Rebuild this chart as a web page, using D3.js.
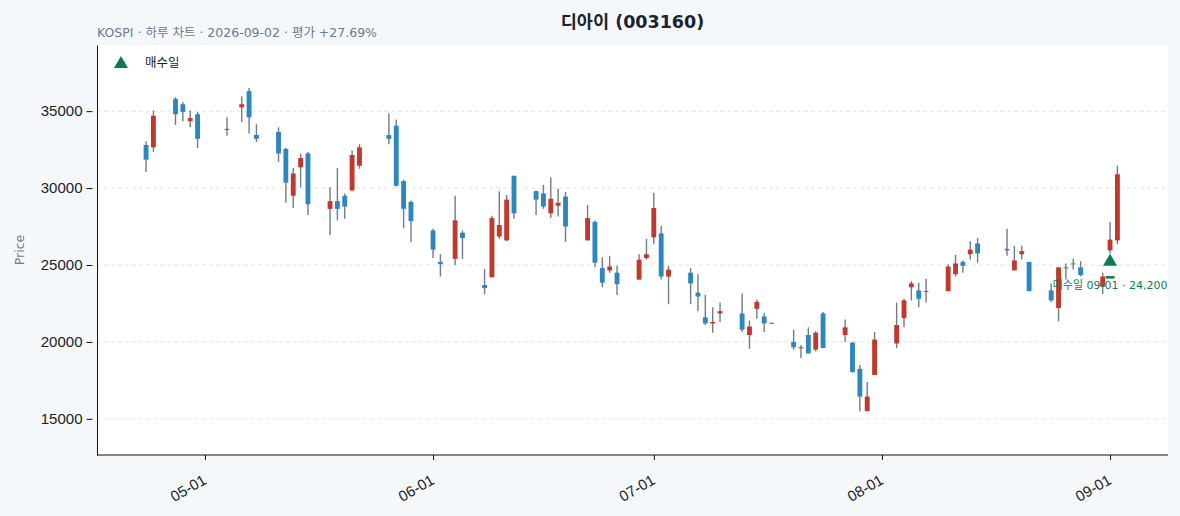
<!DOCTYPE html>
<html>
<head>
<meta charset="utf-8">
<script src="https://cdn.jsdelivr.net/npm/d3@7"></script>
<style>
	body { margin: 0; background: #f5f8fb; }
	svg { display: block; font-family: "DejaVu Sans", "Noto Sans CJK KR", sans-serif; }
	.grid line { stroke: #e4e4e4; stroke-dasharray: 4,3; }
	.axis path, .axis line { stroke: #111; }
	.axis text { fill: #222; font-size: 15px; }
</style>
</head>
<body>
<svg id="chart"></svg>
<script>

// daily candles (KRW)
var dates = [
	"2026-04-23","2026-04-24","2026-04-27","2026-04-28","2026-04-29","2026-04-30",
	"2026-05-04","2026-05-06","2026-05-07","2026-05-08","2026-05-11","2026-05-12","2026-05-13","2026-05-14","2026-05-15",
	"2026-05-18","2026-05-19","2026-05-20","2026-05-21","2026-05-22","2026-05-26","2026-05-27","2026-05-28","2026-05-29",
	"2026-06-01","2026-06-02","2026-06-04","2026-06-05","2026-06-08","2026-06-09","2026-06-10","2026-06-11","2026-06-12",
	"2026-06-15","2026-06-16","2026-06-17","2026-06-18","2026-06-19","2026-06-22","2026-06-23","2026-06-24","2026-06-25","2026-06-26",
	"2026-06-29","2026-06-30","2026-07-01","2026-07-02","2026-07-03","2026-07-06","2026-07-07","2026-07-08","2026-07-09","2026-07-10",
	"2026-07-13","2026-07-14","2026-07-15","2026-07-16","2026-07-17","2026-07-20","2026-07-21","2026-07-22","2026-07-23","2026-07-24",
	"2026-07-27","2026-07-28","2026-07-29","2026-07-30","2026-07-31","2026-08-03","2026-08-04","2026-08-05","2026-08-06","2026-08-07",
	"2026-08-10","2026-08-11","2026-08-12","2026-08-13","2026-08-14","2026-08-18","2026-08-19","2026-08-20","2026-08-21",
	"2026-08-24","2026-08-25","2026-08-26","2026-08-27","2026-08-28","2026-08-31","2026-09-01","2026-09-02"
];
var opens = [
	32800,32650,35800,35450,34350,34800,
	33800,35250,36300,33450,33650,32550,29500,31350,32250,
	28650,29150,29500,29850,31450,33450,34050,30450,29100,
	27250,25200,25400,27100,23700,24200,26850,26600,30800,
	29800,29650,28350,28850,29450,26600,27800,24800,24650,24500,
	24050,25450,26800,27050,24250,24500,23200,21600,21200,21850,
	21850,20450,22150,21650,21230,20000,19600,20450,19500,21850,
	20450,19950,18250,15500,17850,19900,21550,23550,23350,23250,
	23300,24400,25200,25700,26400,26050,24650,25700,25200,
	23350,22200,24850,25100,24850,23600,25950,26600
];
var highs = [
	33050,35050,35900,35600,35050,34950,
	34600,35950,36500,34150,33950,32600,31300,32250,32350,
	30050,31300,29650,32450,32850,34850,34450,30550,29200,
	27350,25700,29500,27250,24750,28200,29800,29550,30800,
	29850,30200,30700,29950,29750,28900,27900,25500,25600,24950,
	25700,26700,29700,27550,24950,24800,24400,23050,22250,22550,
	23150,21400,22750,21900,21250,20800,19800,20950,20700,21950,
	21450,20000,18500,17400,20650,22550,22800,23950,23850,24100,
	25050,25650,25300,26550,26750,27350,26250,26250,25200,
	23800,24850,25100,25400,25250,24500,27800,31450
];
var lows = [
	31050,32350,34100,34350,33950,32600,
	33400,34300,33550,33000,31700,29050,28700,30050,28250,
	26950,27900,28000,29800,31250,32850,30100,27400,26500,
	25450,24250,25000,25400,23100,24200,26700,26550,28000,
	28250,28650,28050,28150,26500,26600,24850,23550,24500,23050,
	24050,25350,26350,24050,22450,22450,22000,21100,20600,21300,
	20650,19550,21500,20650,21230,19500,18950,19250,19400,19600,
	20000,18000,15500,15500,17850,19600,20950,22700,22250,22550,
	23300,24250,24500,25350,25150,25600,24650,25350,23300,
	22600,21350,24050,24700,24250,23100,25750,26350
];
var closes = [
	31850,34700,34800,34950,34550,33200,
	33850,35450,34600,33200,32250,30350,30950,31950,28950,
	29150,28650,28800,32150,32650,33200,30150,28650,27850,
	26000,25050,27900,26750,23500,28050,27600,29250,28350,
	29250,28800,29300,29050,27500,28050,25150,23850,24900,23750,
	25350,25700,28700,24250,24700,23800,22950,21200,21300,22000,
	20800,21000,22600,21200,21250,19650,19650,19250,20600,19600,
	20950,18050,16450,16450,20150,21100,22700,23800,22800,23300,
	24900,25100,24950,26000,25750,25950,25300,25900,23300,
	22700,24850,24800,25050,24350,24250,26650,30900
];

var yTicks = [15000, 20000, 25000, 30000, 35000];
var monthTicks = ["2026-05-01","2026-06-01","2026-07-01","2026-08-01","2026-09-01"];

var buyDate = "2026-09-01",
	buyPrice = 24200;

var title = "디아이 (003160)",
	subtitle = "KOSPI · 하루 차트 · 2026-09-02 · 평가 +27.69%",
	legendLabel = "매수일";

function Chart(){
	this.width = 1180,
	this.height = 516,
	this.margin = {top: 45, right: 12, bottom: 61, left: 97},

	this.draw();
}

Chart.prototype.draw = function(){

	var width = this.width,
		height = this.height,
		m = this.margin,
		parse = d3.timeParse("%Y-%m-%d"),
		up = "#c0392b",
		down = "#2e86c1",
		wick = "#6f7c8a",
		green = "#0b7d4e";

	var candles = dates.map(function(d, i){
		return {date: parse(d), o: opens[i], h: highs[i], l: lows[i], c: closes[i]};
	});

	var svg = d3.select("#chart")
		.attr("width", width)
		.attr("height", height);

	// plot background
	svg.append("rect")
		.attr("x", m.left)
		.attr("y", m.top)
		.attr("width", width - m.left - m.right)
		.attr("height", height - m.top - m.bottom)
		.attr("fill", "#fff");

	var first = candles[0].date,
		last = candles[candles.length - 1].date;

	var x = d3.scaleTime()
		.domain([d3.timeHour.offset(first, -160), d3.timeHour.offset(last, 165)])
		.range([m.left, width - m.right]);

	var y = d3.scaleLinear()
		.domain([12650, 39300])
		.range([height - m.bottom, m.top]);

	var day = x(d3.timeDay.offset(first, 1)) - x(first),
		bodyW = day * 0.66;

	// grid
	svg.append("g")
		.classed("grid", true)
		.selectAll("line")
		.data(yTicks)
		.enter()
			.append("line")
				.attr("x1", m.left)
				.attr("x2", width - m.right)
				.attr("y1", function(d){ return y(d); })
				.attr("y2", function(d){ return y(d); });

	// candles
	var g = svg.append("g").classed("candles", true)
		.selectAll("g")
		.data(candles)
		.enter()
			.append("g");

	g.append("line")
		.attr("x1", function(d){ return x(d.date); })
		.attr("x2", function(d){ return x(d.date); })
		.attr("y1", function(d){ return y(d.h); })
		.attr("y2", function(d){ return y(d.l); })
		.attr("stroke", wick)
		.attr("stroke-width", 1.4);

	g.append("rect")
		.attr("x", function(d){ return x(d.date) - bodyW / 2; })
		.attr("width", bodyW)
		.attr("y", function(d){ return y(Math.max(d.o, d.c)); })
		.attr("height", function(d){ return Math.max(1, Math.abs(y(d.o) - y(d.c))); })
		.attr("fill", function(d){ return d.c >= d.o ? up : down; });

	// buy marker
	var buy = candles.filter(function(d){ return +d.date == +parse(buyDate); })[0];

	svg.append("line")
		.attr("x1", x(buy.date) - day * 0.6)
		.attr("x2", x(buy.date) + day * 0.6)
		.attr("y1", y(buyPrice))
		.attr("y2", y(buyPrice))
		.attr("stroke", green)
		.attr("stroke-width", 2.5);

	svg.append("path")
		.attr("d", d3.symbol(d3.symbolTriangle, 85))
		.attr("transform", "translate(" + x(buy.date) + "," + y(buy.l * 0.979) + ")")
		.attr("fill", green);

	svg.append("text")
		.attr("x", x(buy.date))
		.attr("y", y(buyPrice) + 12)
		.attr("text-anchor", "middle")
		.attr("fill", green)
		.style("font-size", "11px")
		.text(legendLabel + " " + d3.timeFormat("%m-%d")(buy.date) + " · " + d3.format(",")(buyPrice));

	// axes
	var yAxis = svg.append("g")
		.classed("axis", true)
		.attr("transform", "translate(" + m.left + ",0)")
		.call(d3.axisLeft(y).tickValues(yTicks).tickSizeOuter(0).tickFormat(d3.format("d")));

	yAxis.selectAll(".tick line").attr("x1", -4.5).attr("x2", -10.5);
	yAxis.selectAll(".tick text").attr("x", -14.5);

	var xAxis = svg.append("g")
		.classed("axis", true)
		.attr("transform", "translate(0," + (height - m.bottom) + ")")
		.call(d3.axisBottom(x).tickValues(monthTicks.map(parse)).tickSize(5).tickSizeOuter(0).tickFormat(d3.timeFormat("%m-%d")));

	xAxis.select(".domain").attr("d", "M" + m.left + ",0H" + (width - m.right));

	xAxis.selectAll("text")
		.attr("x", 0)
		.attr("y", 0)
		.attr("dy", 0)
		.attr("text-anchor", "end")
		.attr("transform", "translate(2,28) rotate(-30)");

	// texts
	svg.append("text")
		.attr("x", (m.left + width - m.right) / 2)
		.attr("y", 28)
		.attr("text-anchor", "middle")
		.attr("fill", "#1a2233")
		.style("font-size", "17.5px")
		.style("font-weight", "bold")
		.text(title);

	svg.append("text")
		.attr("x", m.left)
		.attr("y", 37)
		.attr("fill", "#6b7a8c")
		.style("font-size", "12.5px")
		.text(subtitle);

	svg.append("text")
		.attr("transform", "translate(24," + ((m.top + height - m.bottom) / 2) + ") rotate(-90)")
		.attr("text-anchor", "middle")
		.attr("fill", "#6b7a8c")
		.style("font-size", "12.5px")
		.text("Price");

	// legend
	svg.append("path")
		.attr("d", d3.symbol(d3.symbolTriangle, 85))
		.attr("transform", "translate(121,64)")
		.attr("fill", green);

	svg.append("text")
		.attr("x", 145)
		.attr("y", 67)
		.attr("fill", "#222")
		.style("font-size", "12.5px")
		.text(legendLabel);
}

new Chart();
</script>
</body>
</html>
